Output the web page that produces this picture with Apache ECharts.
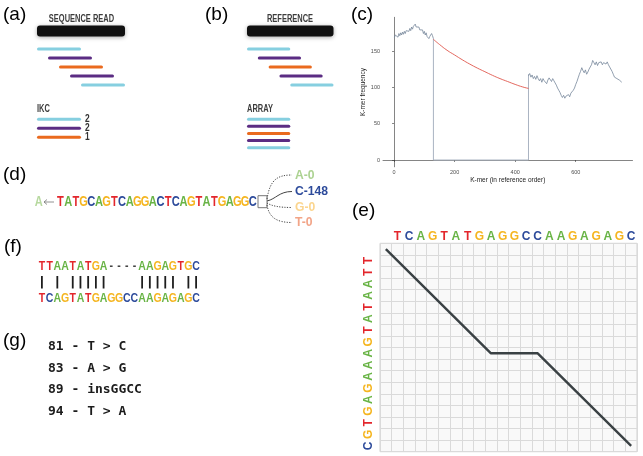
<!DOCTYPE html>
<html><head><meta charset="utf-8">
<script src="https://cdn.jsdelivr.net/npm/echarts@6/dist/echarts.min.js"></script>
<style>html,body{margin:0;padding:0;background:#fff}#c{width:643px;height:456px}</style>
</head><body><div id="c"></div>
<script>
// ================= DATA =================
// (a) sequence read split into k-mers
const readLength = 8;            // read length in k-mer steps
const kmerLength = 4;
const readKmerStart = [0, 1, 2, 3, 4];
const readKmerType = [0, 1, 2, 1, 0];
const ikcType = [0, 1, 2];
const ikcCount = [2, 2, 1];
// (b) reference split into k-mers
const refKmerStart = [0, 1, 2, 3, 4];
const refKmerType = [0, 1, 2, 1, 0];
const arrayType = [0, 1, 2, 1, 0];

// (c) k-mer frequency along the reference
const leftPos = [1,4,7,10,13,16,19,22,25,28,31,34,37,40,43,46,49,52,55,58,61,64,67,70,73,76,79,82,85,88,91,94,97,100,103,106,109,112,115,118,121,124,127,130];
const leftFreq = [168,172,170,173,169,174,171,175,172,176,173,177,174,178,176,180,177,181,178,183,180,184,182,187,183,185,181,183,179,181,177,179,174,177,172,175,170,172,167,170,168,174,171,167];
const gapPos = [130, 130, 444, 444];
const gapFreq = [167, 0, 0, 118];
const rightPos = [444,448,452,456,460,464,468,472,476,480,484,488,492,496,500,504,508,512,516,520,524,528,532,536,540,544,548,552,556,560,564,568,572,576,580,584,588,592,596,600,604,608,612,616,620,624,628,632,636,640,644,648,652,656,660,664,668,672,676,680,684,688,692,696,700,704,708,712,716,720,724,728,732,736,740,744,748,752];
const rightFreq = [116,119,114,117,112,115,111,116,112,109,112,107,112,109,110,105,110,113,115,108,112,109,106,103,99,96,93,89,86,89,85,88,86,90,87,92,91,96,99,104,108,113,118,122,127,123,120,124,118,121,125,128,131,137,134,131,135,130,134,132,135,131,134,136,132,135,131,128,127,122,118,114,113,112,113,110,111,107];
const fitPos = [130,150,175,200,225,250,275,300,325,350,375,400,425,444];
const fitFreq = [166,159,151,144.5,138,132,126.5,121.5,116.5,112,108,104,100.5,98.5];
const cXTicks = [0, 200, 400, 600];
const cYTicks = [0, 50, 100, 150];

// (d) extension of a sequence
const dStart = 'A';
const dSeq = 'TATGCAGTCAGGACTCAGTATGAGGC';
const dNextBase = ['A', 'C', 'G', 'T'];
const dNextCount = [0, 148, 0, 0];

// (e) alignment path
const eCols = 'TCAGTATGAGGCCAAGAGAGC';
const eRows = 'TTAATATGAAAGAGTGC';
const ePathCol = [0, 9, 13, 21];
const ePathRow = [0, 9, 9, 17];

// (f) alignment
const fTop = 'TTAATATGA----AAGAGTGC';
const fBottom = 'TCAGTATGAGGCCAAGAGAGC';

// (g) variants
const gVariants = ['81 - T > C', '83 - A > G', '89 - insGGCC', '94 - T > A'];

// ================= STYLE =================
const baseColor = {T: '#e3262c', C: '#2d4b9b', A: '#69b446', G: '#f5b51f', '-': '#444'};
const kmerColors = ['#86cfe0', '#5b2c83', '#ea6a1e'];
const helv = '"Liberation Sans",Arial,Helvetica,sans-serif';
const mono = '"DejaVu Sans Mono","Liberation Mono",monospace';

const graphics = [];
function txt(x, y, text, o) {
  o = o || {};
  const a = o.a || 'left', v = o.v || 'middle';
  graphics.push({type: 'text', x: x, y: y, scaleX: o.sx || 1, silent: true, z: 10,
    style: {text: text, fill: o.fill || '#000', fontSize: o.size || 12,
      fontFamily: o.family || helv, fontWeight: o.weight || 'normal',
      align: a, verticalAlign: v, textAlign: a, textVerticalAlign: v}});
}

// panel letters
txt(3, 14.5, '(a)', {size: 19});
txt(205, 14.5, '(b)', {size: 19});
txt(351, 15, '(c)', {size: 19});
txt(3, 175, '(d)', {size: 19});
txt(352, 211, '(e)', {size: 19});
txt(4, 247, '(f)', {size: 19});
txt(3, 341, '(g)', {size: 19});

// (a)/(b) headings
const headStyle = {size: 11, weight: 'bold', fill: '#3c3c3c', sx: 0.68};
txt(81.5, 19, 'SEQUENCE READ', Object.assign({a: 'center'}, headStyle));
txt(290, 19, 'REFERENCE', Object.assign({a: 'center'}, headStyle));
txt(37, 108.5, 'IKC', headStyle);
txt(247, 108.5, 'ARRAY', headStyle);

// (d) extension
const seqStyle = {a: 'center', size: 15, weight: 'bold', sx: 0.74};
txt(38.8, 201.5, dStart, Object.assign({}, seqStyle, {fill: '#b7d99f'}));
graphics.push({type: 'polyline', silent: true, shape: {points: [[54, 202], [44, 202]]}, style: {stroke: '#777', lineWidth: 0.8, fill: null}});
graphics.push({type: 'polyline', silent: true, shape: {points: [[47, 199.5], [44, 202], [47, 204.5]]}, style: {stroke: '#777', lineWidth: 0.8, fill: null}});
for (let i = 0; i < dSeq.length; i++) {
  txt(60.5 + i * 7.69, 201.5, dSeq[i], Object.assign({}, seqStyle, {fill: baseColor[dSeq[i]]}));
}
graphics.push({type: 'rect', silent: true, shape: {x: 258, y: 195.7, width: 9, height: 12}, style: {fill: '#fff', stroke: '#777', lineWidth: 1}});
const dFaded = {A: '#acd291', C: '#2d4b9b', G: '#fbd58e', T: '#f2a487'};
const dLabelY = [175, 191.5, 207.5, 222.5];
const dCurves = [
  [267, 199, 270, 180, 277, 175, 292, 175],
  [267, 201, 276, 199, 279, 191.5, 292, 191.5],
  [267, 203, 272, 206, 279, 207.5, 292, 207.5],
  [267, 205, 269, 217, 276, 222.5, 292, 222.5]
];
const dMax = Math.max.apply(null, dNextCount);
dNextBase.forEach(function (b, i) {
  const c = dCurves[i];
  const chosen = dNextCount[i] === dMax;
  graphics.push({type: 'bezierCurve', silent: true,
    shape: {x1: c[0], y1: c[1], cpx1: c[2], cpy1: c[3], cpx2: c[4], cpy2: c[5], x2: c[6], y2: c[7]},
    style: {stroke: '#444', lineWidth: 1, fill: null, lineDash: chosen ? null : [1.2, 1.4]}});
  txt(295, dLabelY[i], b + '-' + dNextCount[i], {size: 13.5, weight: 'bold', sx: 0.9, fill: chosen ? baseColor[b] : dFaded[b]});
});

// (f) alignment
const alnStyle = {a: 'center', size: 13.5, weight: 'bold', sx: 0.78};
for (let i = 0; i < fTop.length; i++) {
  const x = 41.9 + i * 7.71;
  txt(x, 266, fTop[i], Object.assign({}, alnStyle, {fill: baseColor[fTop[i]]}));
  txt(x, 298.3, fBottom[i], Object.assign({}, alnStyle, {fill: baseColor[fBottom[i]]}));
  if (fTop[i] === fBottom[i]) {
    graphics.push({type: 'line', silent: true, shape: {x1: x, y1: 276, x2: x, y2: 288.5}, style: {stroke: '#1e1e1e', lineWidth: 1.8}});
  }
}

// (g) variants
gVariants.forEach(function (s, i) {
  txt(48, 346.7 + i * 21.7, s, {size: 13, family: mono, weight: 'bold', fill: '#1c1c1c'});
});

// ================= SERIES (a)/(b) =================
function kmerItem(start, row, type, count) { return [start, row, type, kmerLength, count]; }
const aItems = readKmerStart.map(function (s, i) { return kmerItem(s, i + 1, readKmerType[i], -1); })
  .concat(ikcType.map(function (t, i) { return kmerItem(0, 8.8 + i, t, ikcCount[i]); }));
const bItems = refKmerStart.map(function (s, i) { return kmerItem(s, i + 1, refKmerType[i], -1); })
  .concat(arrayType.map(function (t, i) { return kmerItem(0, 8.8 + i * 0.79, t, -1); }));

function kmerRender(params, api) {
  const s = api.value(0), r = api.value(1), t = api.value(2), len = api.value(3), cnt = api.value(4);
  const p0 = api.coord([s, r]), p1 = api.coord([s + len, r]);
  const children = [{type: 'line', shape: {x1: p0[0] + 1.5, y1: p0[1], x2: p1[0] - 1.5, y2: p1[1]},
    style: {stroke: kmerColors[t], lineWidth: 3, lineCap: 'round'}}];
  if (cnt >= 0) {
    children.push({type: 'text', x: p1[0] + 4, y: p1[1], scaleX: 0.8, style: {text: String(cnt), fill: '#333', fontSize: 10.5,
      fontFamily: helv, fontWeight: 'bold', align: 'left', verticalAlign: 'middle'}});
  }
  return {type: 'group', children: children};
}
function barRender(params, api) {
  const p0 = api.coord([0, api.value(1)]), p1 = api.coord([api.value(0), api.value(1)]);
  return {type: 'rect', shape: {x: p0[0], y: p0[1] - 5.5, width: p1[0] - p0[0], height: 11, r: 3},
    style: {fill: '#111', shadowBlur: 4, shadowColor: 'rgba(0,0,0,0.35)', shadowOffsetY: 1}};
}

function hiddenAxis(i, min, max, inverse) {
  return {gridIndex: i, type: 'value', min: min, max: max, inverse: !!inverse, show: false};
}
const line = function (xs, ys) { return xs.map(function (x, i) { return [x, ys[i]]; }); };
const baseRich = {};
['T', 'C', 'A', 'G'].forEach(function (b) {
  baseRich[b] = {color: baseColor[b], fontSize: 12, fontWeight: 'bold', fontFamily: helv};
});
const baseFmt = function (v) { return v ? '{' + v + '|' + v + '}' : ''; };

const option = {
  animation: false,
  backgroundColor: '#fff',
  graphic: {elements: graphics},
  grid: [
    {left: 37, top: 22, width: 88, height: 135, containLabel: false, outerBoundsMode: 'none'},
    {left: 247, top: 22, width: 86.5, height: 135, containLabel: false, outerBoundsMode: 'none'},
    {left: 383, top: 17.3, width: 249.5, height: 149.5, containLabel: false, outerBoundsMode: 'none'},
    {left: 380, top: 243.3, width: 257, height: 208.4, containLabel: false, outerBoundsMode: 'none',
      show: true, backgroundColor: '#f9f9f9', borderColor: '#d0d0d0', borderWidth: 1}
  ],
  xAxis: [
    hiddenAxis(0, 0, readLength),
    hiddenAxis(1, 0, readLength),
    {gridIndex: 2, type: 'value', min: -36.5, max: 787.5,
      name: 'K-mer (in reference order)', nameLocation: 'middle', nameGap: 10,
      nameTextStyle: {fontSize: 6.5, color: '#222', fontFamily: helv},
      axisLine: {show: true, lineStyle: {color: '#333', width: 0.6}},
      axisTick: {show: true, customValues: cXTicks, length: 2, lineStyle: {color: '#333', width: 0.6}},
      axisLabel: {customValues: cXTicks, fontSize: 5.5, color: '#4d4d4d', margin: 3, fontFamily: helv},
      splitLine: {show: false}},
    {gridIndex: 3, type: 'category', position: 'top', data: [''].concat(eCols.split('')), boundaryGap: true,
      axisLine: {show: false}, axisTick: {show: false},
      splitLine: {show: true, interval: 0, lineStyle: {color: '#dadada', width: 1}},
      axisLabel: {interval: 0, margin: 1, formatter: baseFmt, rich: baseRich}}
  ],
  yAxis: [
    hiddenAxis(0, -2, 13, true),
    hiddenAxis(1, -2, 13, true),
    {gridIndex: 2, type: 'value', min: -9.35, max: 196.35,
      name: 'K-mer frequency', nameLocation: 'middle', nameGap: 14,
      nameTextStyle: {fontSize: 6.5, color: '#222', fontFamily: helv},
      axisLine: {show: true, lineStyle: {color: '#333', width: 0.6}},
      axisTick: {show: true, customValues: cYTicks, length: 2, lineStyle: {color: '#333', width: 0.6}},
      axisLabel: {customValues: cYTicks, fontSize: 5.5, color: '#4d4d4d', margin: 3, fontFamily: helv},
      splitLine: {show: false}},
    {gridIndex: 3, type: 'category', inverse: true, data: [''].concat(eRows.split('')), boundaryGap: true,
      axisLine: {show: false}, axisTick: {show: false},
      splitLine: {show: true, interval: 0, lineStyle: {color: '#dadada', width: 1}},
      axisLabel: {interval: 0, margin: 5, rotate: 90, formatter: baseFmt, rich: baseRich}}
  ],
  series: [
    {type: 'custom', xAxisIndex: 0, yAxisIndex: 0, renderItem: barRender, data: [[readLength, -1]], silent: true},
    {type: 'custom', xAxisIndex: 0, yAxisIndex: 0, renderItem: kmerRender, data: aItems, silent: true},
    {type: 'custom', xAxisIndex: 1, yAxisIndex: 1, renderItem: barRender, data: [[readLength, -1]], silent: true},
    {type: 'custom', xAxisIndex: 1, yAxisIndex: 1, renderItem: kmerRender, data: bItems, silent: true},
    {type: 'line', xAxisIndex: 2, yAxisIndex: 2, data: line(gapPos, gapFreq), showSymbol: false, symbol: 'none',
      lineStyle: {color: '#aab4c2', width: 1}, silent: true},
    {type: 'line', xAxisIndex: 2, yAxisIndex: 2, data: line(leftPos, leftFreq), showSymbol: false, symbol: 'none',
      lineStyle: {color: '#76869a', width: 0.8}, silent: true},
    {type: 'line', xAxisIndex: 2, yAxisIndex: 2, data: line(rightPos, rightFreq), showSymbol: false, symbol: 'none',
      lineStyle: {color: '#76869a', width: 0.8}, silent: true},
    {type: 'line', xAxisIndex: 2, yAxisIndex: 2, data: line(fitPos, fitFreq), smooth: true, showSymbol: false, symbol: 'none',
      lineStyle: {color: '#e0564c', width: 0.9}, silent: true},
    {type: 'line', xAxisIndex: 3, yAxisIndex: 3, data: line(ePathCol, ePathRow), showSymbol: false, symbol: 'none',
      lineStyle: {color: '#3a4144', width: 2.4}, silent: true}
  ]
};

const chart = echarts.init(document.getElementById('c'), null, {renderer: 'canvas'});
chart.setOption(option);
</script>
</body></html>
